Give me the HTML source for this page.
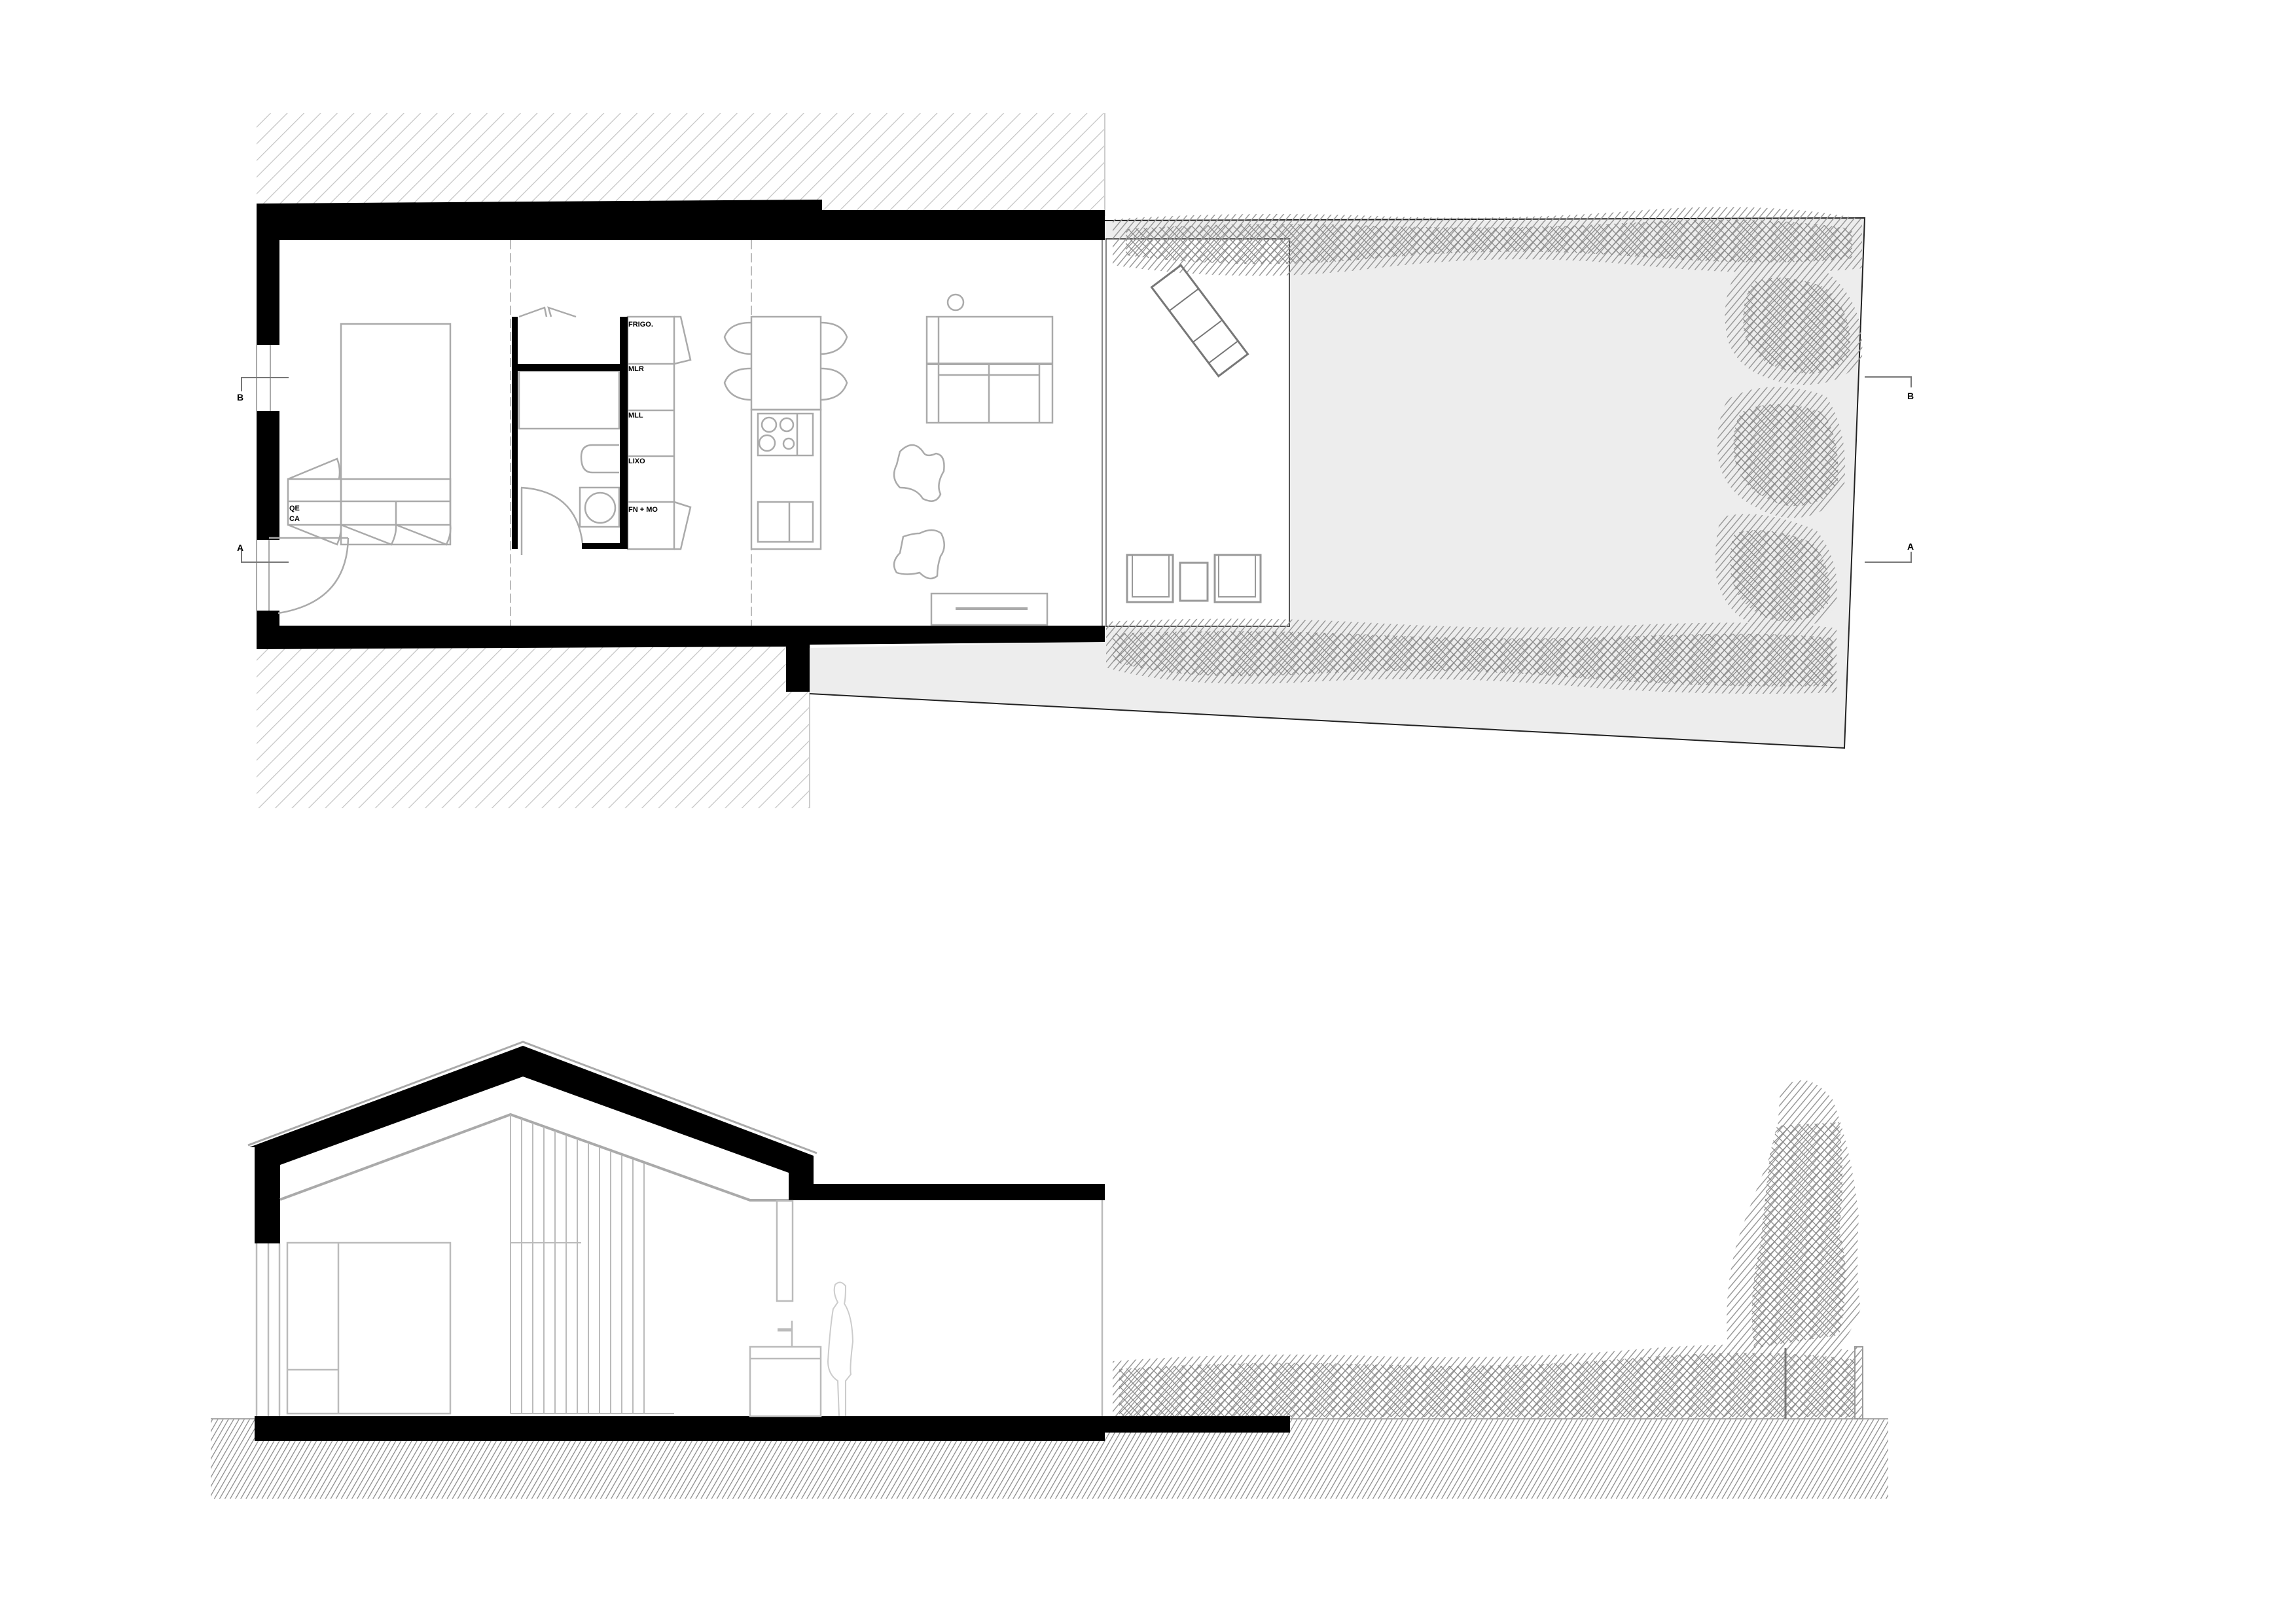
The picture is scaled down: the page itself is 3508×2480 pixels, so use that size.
<!DOCTYPE html>
<html><head><meta charset="utf-8"><style>
html,body{margin:0;padding:0;background:#fff}
svg{display:block}
text{font-family:"Liberation Sans",sans-serif;font-weight:bold}
</style></head><body>
<svg width="3508" height="2480" viewBox="0 0 3508 2480" xmlns="http://www.w3.org/2000/svg">
<defs>
<pattern id="h1" width="18" height="18" patternUnits="userSpaceOnUse" patternTransform="rotate(45)">
<line x1="0" y1="0" x2="0" y2="18" stroke="#c4c4c4" stroke-width="2.5"/></pattern>
<pattern id="h2" width="7" height="7" patternUnits="userSpaceOnUse" patternTransform="rotate(30)">
<line x1="0" y1="0" x2="0" y2="7" stroke="#888" stroke-width="2.5"/></pattern>
<pattern id="x1" width="9" height="9" patternUnits="userSpaceOnUse" patternTransform="rotate(45)">
<line x1="0" y1="0" x2="0" y2="9" stroke="#888" stroke-width="2.5"/>
<line x1="0" y1="0" x2="9" y2="0" stroke="#888" stroke-width="2.5"/></pattern>
<pattern id="d1" width="8" height="8" patternUnits="userSpaceOnUse" patternTransform="rotate(40)">
<line x1="0" y1="0" x2="0" y2="8" stroke="#999" stroke-width="3"/></pattern>
</defs>

<!-- ============ PLAN ============ -->
<rect x="392" y="173" width="1296" height="150" fill="url(#h1)"/>
<rect x="392" y="985" width="845" height="250" fill="url(#h1)"/>
<line x1="1688" y1="173" x2="1688" y2="330" stroke="#ccc" stroke-width="2"/>
<line x1="1237" y1="985" x2="1237" y2="1235" stroke="#ccc" stroke-width="2"/>

<polygon points="1237,990 1688,981 1688,337 2849,333 2818,1143 1237,1060" fill="#ededed"/>
<polyline points="1688,337 2849,333 2818,1143 1237,1060" fill="none" stroke="#222" stroke-width="2"/>
<rect x="1690" y="365" width="280" height="592" fill="#fff" stroke="#555" stroke-width="2"/>
<!-- hedges plan -->
<g fill="url(#d1)">
<path d="M1700,335 Q1900,322 2100,330 T2500,322 T2845,335 L2845,410 Q2700,425 2500,405 T2100,410 T1700,405 Z"/>
<path d="M1690,950 Q1900,940 2100,952 T2500,955 T2806,960 L2806,1058 Q2600,1065 2400,1048 T2000,1042 T1690,1020 Z"/>
<path d="M2660,405 Q2720,390 2790,415 Q2850,460 2845,545 Q2820,590 2750,588 Q2660,580 2640,520 Q2625,455 2660,405 Z"/>
<path d="M2640,610 Q2700,575 2790,605 Q2825,660 2818,740 Q2790,800 2720,790 Q2635,765 2625,700 Q2620,645 2640,610 Z"/>
<path d="M2630,790 Q2690,775 2775,810 Q2815,860 2805,925 Q2775,970 2700,962 Q2635,945 2622,880 Q2618,825 2630,790 Z"/>
</g>
<g fill="url(#x1)">
<path d="M1720,350 Q1900,338 2100,345 T2500,340 T2830,350 L2830,395 Q2700,408 2500,392 T2100,395 T1720,390 Z"/>
<path d="M1700,968 Q1900,960 2100,970 T2500,972 T2800,975 L2800,1048 Q2600,1052 2400,1035 T2000,1030 T1700,1010 Z"/>
<path d="M2680,430 Q2730,415 2790,440 Q2835,480 2825,545 Q2800,575 2750,570 Q2680,560 2665,510 Q2658,460 2680,430 Z"/>
<path d="M2660,630 Q2710,605 2785,630 Q2812,670 2808,735 Q2785,780 2725,772 Q2660,752 2650,700 Q2645,655 2660,630 Z"/>
<path d="M2650,815 Q2700,800 2770,830 Q2800,865 2795,920 Q2770,955 2710,948 Q2655,930 2645,880 Q2640,840 2650,815 Z"/>
</g>
<!-- deck chair -->
<g transform="translate(1833,490) rotate(53)">
<rect x="-85" y="-28" width="170" height="56" fill="none" stroke="#777" stroke-width="3"/>
<line x1="-40" y1="-28" x2="-40" y2="28" stroke="#777" stroke-width="2"/>
<line x1="20" y1="-28" x2="20" y2="28" stroke="#777" stroke-width="2"/>
<line x1="60" y1="-28" x2="60" y2="28" stroke="#777" stroke-width="2"/>
</g>
<rect x="1722" y="848" width="70" height="72" fill="none" stroke="#999" stroke-width="3"/>
<rect x="1730" y="848" width="56" height="64" fill="none" stroke="#999" stroke-width="2"/>
<rect x="1803" y="860" width="42" height="58" fill="none" stroke="#999" stroke-width="3"/>
<rect x="1856" y="848" width="70" height="72" fill="none" stroke="#999" stroke-width="3"/>
<rect x="1862" y="848" width="56" height="64" fill="none" stroke="#999" stroke-width="2"/>

<!-- walls -->
<polygon points="392,311 1256,305 1256,321 1688,321 1688,367 427,367 427,527 392,527" fill="#000"/>
<rect x="392" y="628" width="35" height="197" fill="#000"/>
<polygon points="392,933 427,933 427,956 1688,956 1688,981 1237,985 1237,1057 1201,1057 1201,988 392,992" fill="#000"/>
<line x1="392" y1="527" x2="392" y2="628" stroke="#aaa" stroke-width="2"/>
<line x1="413" y1="527" x2="413" y2="628" stroke="#aaa" stroke-width="2"/>
<line x1="392" y1="825" x2="392" y2="933" stroke="#aaa" stroke-width="2"/>
<line x1="411" y1="825" x2="411" y2="933" stroke="#aaa" stroke-width="2"/>
<polyline points="441,577 369,577 369,598" fill="none" stroke="#777" stroke-width="2"/>
<text x="362" y="612" font-size="14">B</text>
<polyline points="441,859 369,859 369,840" fill="none" stroke="#777" stroke-width="2"/>
<text x="362" y="842" font-size="14">A</text>
<polyline points="2849,576 2920,576 2920,592" fill="none" stroke="#777" stroke-width="2"/>
<text x="2914" y="610" font-size="14">B</text>
<polyline points="2849,859 2920,859 2920,843" fill="none" stroke="#777" stroke-width="2"/>
<text x="2914" y="840" font-size="14">A</text>
<line x1="1684" y1="367" x2="1684" y2="956" stroke="#888" stroke-width="2"/>
<line x1="1690" y1="367" x2="1690" y2="956" stroke="#888" stroke-width="2"/>
<line x1="780" y1="367" x2="780" y2="956" stroke="#bbb" stroke-width="2" stroke-dasharray="14,6"/>
<line x1="1148" y1="367" x2="1148" y2="956" stroke="#bbb" stroke-width="2" stroke-dasharray="14,6"/>

<g fill="none" stroke="#aaa" stroke-width="2.5">
<rect x="521" y="495" width="167" height="337"/>
<rect x="440" y="732" width="248" height="70"/>
<line x1="440" y1="766" x2="688" y2="766"/>
<line x1="521" y1="732" x2="521" y2="802"/>
<line x1="605" y1="766" x2="605" y2="802"/>
<path d="M440,732 L515,701 Q521,716 518,732"/>
<path d="M440,802 L515,832 Q522,816 521,802"/>
<path d="M521,802 L598,832 Q606,816 605,802"/>
<path d="M605,802 L682,832 Q690,816 688,802"/>
<line x1="411" y1="822" x2="532" y2="822"/>
<path d="M532,822 Q530,920 425,937"/>
<rect x="793" y="567" width="153" height="88"/>
<path d="M946,680 L905,680 Q888,680 888,698 Q888,722 905,722 L946,722"/>
<rect x="886" y="745" width="60" height="60"/>
<circle cx="917" cy="776" r="23"/>
<path d="M796,745 Q880,750 890,830"/>
<line x1="797" y1="745" x2="797" y2="848"/>
<path d="M793,484 L832,470 L835,484"/>
<path d="M842,484 L838,470 L880,484"/>
<rect x="959" y="484" width="71" height="355"/>
<line x1="959" y1="556" x2="1030" y2="556"/>
<line x1="959" y1="627" x2="1030" y2="627"/>
<line x1="959" y1="697" x2="1030" y2="697"/>
<line x1="959" y1="767" x2="1030" y2="767"/>
<path d="M1030,484 L1040,484 L1055,550 L1030,556"/>
<path d="M1030,767 L1055,775 L1040,839 L1030,839"/>
<rect x="1148" y="484" width="106" height="142"/>
<rect x="1148" y="626" width="106" height="213"/>
<rect x="1158" y="632" width="84" height="64"/>
<line x1="1218" y1="632" x2="1218" y2="696"/>
<circle cx="1175" cy="649" r="11"/><circle cx="1202" cy="649" r="10"/>
<circle cx="1172" cy="677" r="12"/><circle cx="1205" cy="678" r="8"/>
<rect x="1158" y="767" width="84" height="61"/>
<line x1="1206" y1="767" x2="1206" y2="828"/>
<path d="M1147,493 Q1115,493 1107,515 Q1115,540 1147,541"/>
<path d="M1147,563 Q1115,563 1107,585 Q1115,610 1147,611"/>
<path d="M1254,493 Q1286,493 1294,515 Q1286,540 1254,541"/>
<path d="M1254,563 Q1286,563 1294,585 Q1286,610 1254,611"/>
<rect x="1416" y="484" width="192" height="162"/>
<line x1="1434" y1="484" x2="1434" y2="646"/>
<line x1="1416" y1="556" x2="1608" y2="556" stroke-width="4"/>
<line x1="1434" y1="573" x2="1588" y2="573"/>
<line x1="1588" y1="556" x2="1588" y2="646"/>
<line x1="1511" y1="556" x2="1511" y2="646"/>
<circle cx="1460" cy="462" r="12"/>
<path d="M1375,690 Q1395,670 1410,690 Q1415,700 1430,693 Q1445,695 1442,720 Q1430,740 1437,755 Q1430,772 1410,762 Q1400,745 1375,745 Q1360,730 1370,710 Z"/>
<path d="M1380,820 Q1395,815 1405,815 Q1425,805 1438,815 Q1448,835 1437,850 Q1432,865 1432,880 Q1420,890 1405,875 Q1385,880 1370,875 Q1360,860 1375,845 Z"/>
<rect x="1423" y="907" width="177" height="48"/>
<line x1="1460" y1="930" x2="1570" y2="930" stroke-width="4"/>
</g>
<rect x="782" y="484" width="9" height="355" fill="#000"/>
<rect x="947" y="484" width="12" height="355" fill="#000"/>
<rect x="782" y="556" width="177" height="11" fill="#000"/>
<rect x="889" y="830" width="70" height="9" fill="#000"/>
<g font-size="11">
<text x="960" y="499">FRIGO.</text>
<text x="960" y="567">MLR</text>
<text x="960" y="638">MLL</text>
<text x="960" y="708">LIXO</text>
<text x="960" y="782">FN + MO</text>
<text x="442" y="780">QE</text>
<text x="442" y="796">CA</text>
</g>

<!-- ============ SECTION ============ -->
<rect x="322" y="2168" width="2563" height="122" fill="url(#h2)"/>
<line x1="322" y1="2168" x2="2885" y2="2168" stroke="#aaa" stroke-width="2"/>
<path d="M1700,2080 Q1900,2065 2100,2072 T2500,2062 T2840,2065 L2840,2168 L1700,2168 Z" fill="url(#d1)"/>
<path d="M1710,2092 Q1900,2078 2100,2085 T2500,2075 T2835,2078 L2835,2165 L1710,2165 Z" fill="url(#x1)"/>
<!-- tree -->
<path d="M2720,1665 Q2760,1630 2800,1680 Q2830,1760 2840,1860 Q2835,1950 2843,2000 Q2820,2060 2780,2080 L2640,2060 Q2632,1960 2660,1880 Q2690,1800 2715,1740 Z" fill="url(#d1)"/>
<path d="M2715,1720 L2810,1715 Q2820,1800 2810,1880 Q2830,1950 2810,2040 L2680,2060 Q2670,1980 2690,1900 Q2700,1800 2705,1760 Z" fill="url(#x1)"/>
<line x1="2728" y1="2060" x2="2728" y2="2168" stroke="#777" stroke-width="3"/>
<rect x="2834" y="2058" width="12" height="110" fill="url(#d1)" stroke="#999" stroke-width="2"/>

<rect x="389" y="2164" width="1299" height="38" fill="#000"/>
<rect x="1688" y="2164" width="283" height="25" fill="#000"/>
<polygon points="381,1753 799,1598 1243,1766 1243,1809 1688,1809 1688,1834 1205,1834 1205,1792 799,1645 428,1780 428,1900 389,1900 389,1753" fill="#000"/>
<polyline points="379,1750 799,1592 1248,1762" fill="none" stroke="#aaa" stroke-width="3"/>
<polyline points="428,1833 780,1703 1146,1834 1205,1834" fill="none" stroke="#aaa" stroke-width="4"/>
<g stroke="#bbb" stroke-width="2">
<line x1="780" y1="1703" x2="780" y2="2160"/>
<line x1="797" y1="1709" x2="797" y2="2160"/>
<line x1="814" y1="1716" x2="814" y2="2160"/>
<line x1="831" y1="1722" x2="831" y2="2160"/>
<line x1="848" y1="1728" x2="848" y2="2160"/>
<line x1="865" y1="1735" x2="865" y2="2160"/>
<line x1="882" y1="1741" x2="882" y2="2160"/>
<line x1="899" y1="1747" x2="899" y2="2160"/>
<line x1="916" y1="1753" x2="916" y2="2160"/>
<line x1="933" y1="1760" x2="933" y2="2160"/>
<line x1="950" y1="1766" x2="950" y2="2160"/>
<line x1="967" y1="1772" x2="967" y2="2160"/>
<line x1="984" y1="1778" x2="984" y2="2160"/>
<line x1="780" y1="1899" x2="888" y2="1899"/>
<line x1="780" y1="2160" x2="1030" y2="2160"/>
</g>
<g fill="none" stroke="#bbb" stroke-width="2.5">
<rect x="439" y="1899" width="249" height="261"/>
<line x1="517" y1="1899" x2="517" y2="2160"/>
<line x1="439" y1="2093" x2="517" y2="2093"/>
<line x1="392" y1="1900" x2="392" y2="2164"/>
<line x1="410" y1="1900" x2="410" y2="2164"/>
<line x1="427" y1="1900" x2="427" y2="2164"/>
<line x1="1684" y1="1834" x2="1684" y2="2164"/>
<rect x="1187" y="1835" width="24" height="153"/>
<rect x="1146" y="2058" width="108" height="106"/>
<line x1="1146" y1="2076" x2="1254" y2="2076"/>
<line x1="1210" y1="2018" x2="1210" y2="2058"/>
<line x1="1188" y1="2032" x2="1210" y2="2032" stroke-width="5"/>
</g>
<path d="M1282,2164 L1280,2110 Q1265,2100 1265,2080 Q1268,2030 1273,2000 L1280,1990 Q1272,1975 1276,1963 Q1284,1955 1292,1965 Q1292,1985 1290,1992 Q1302,2010 1303,2050 Q1298,2090 1300,2100 L1292,2110 L1292,2164" fill="none" stroke="#ccc" stroke-width="2"/>
</svg>
</body></html>
